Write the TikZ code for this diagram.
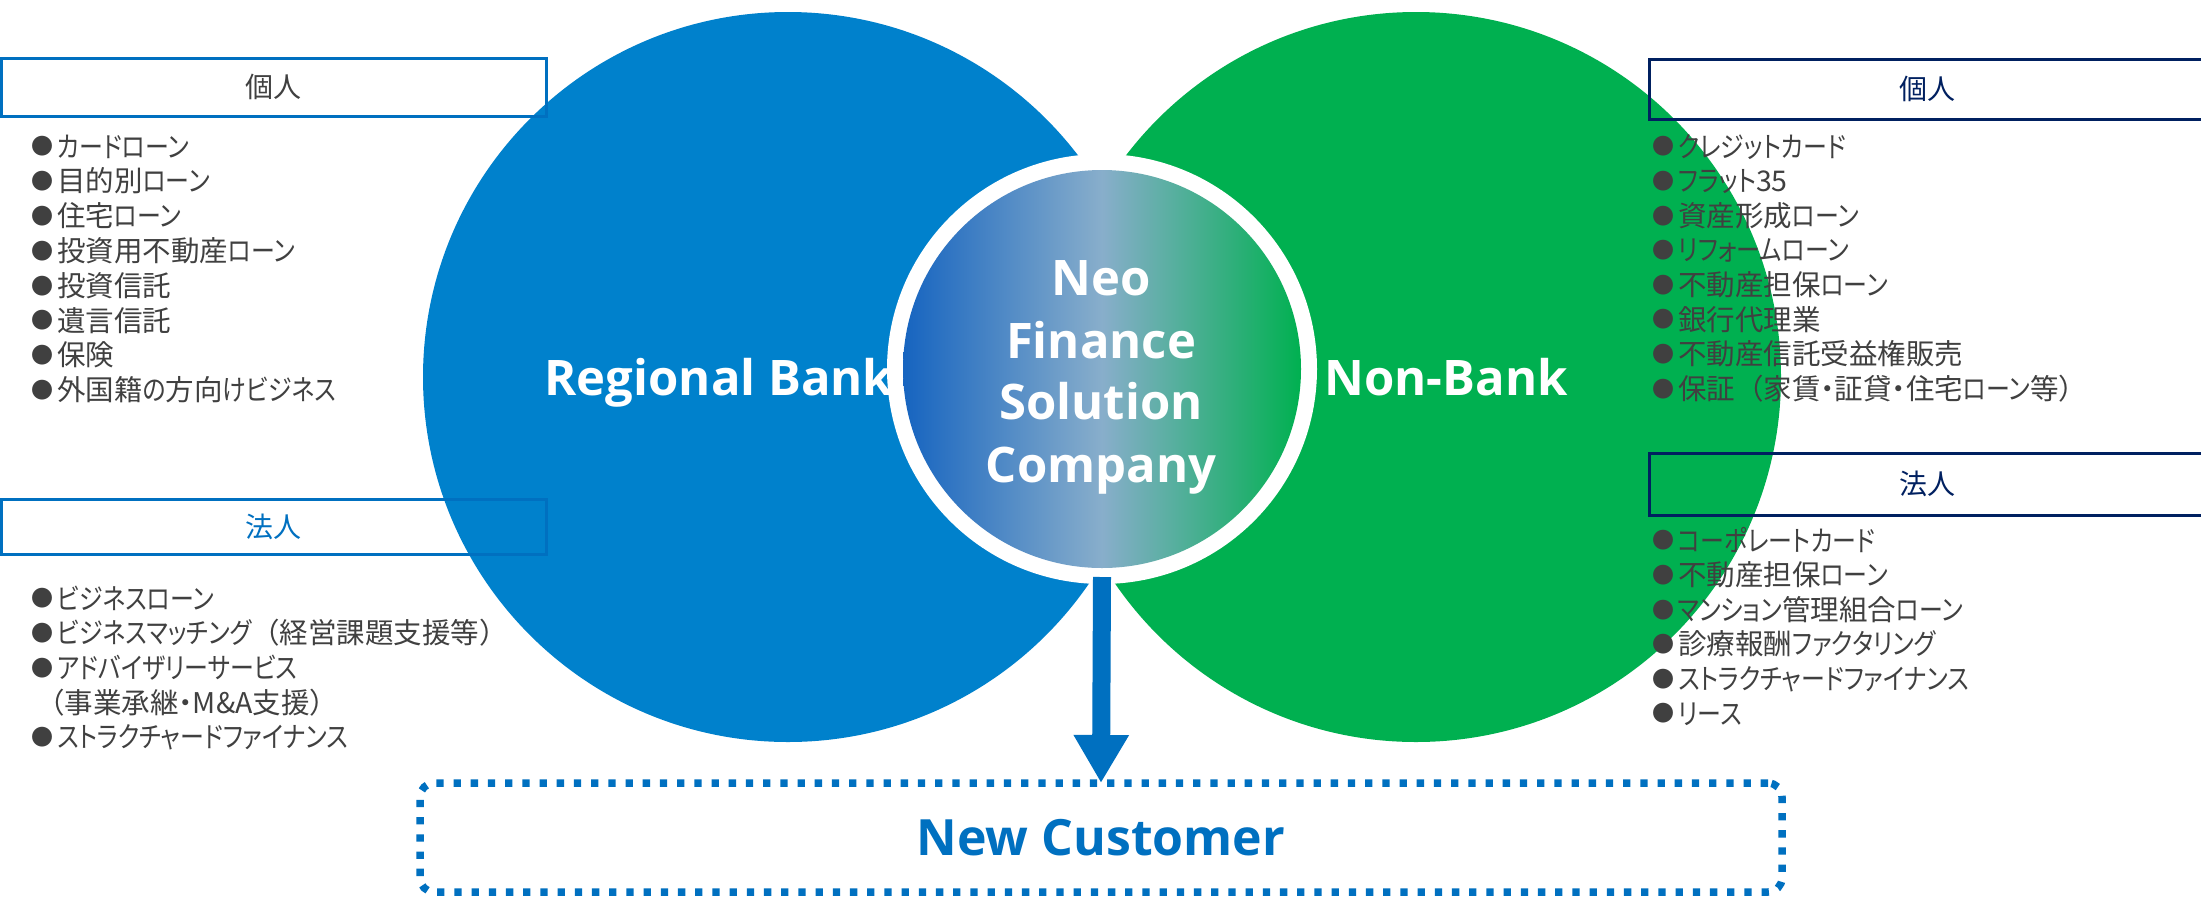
\documentclass[tikz,border=0pt]{standalone}
\usepackage{fontspec}
\newfontfamily\jp{Noto Sans CJK JP}[RawFeature=+palt]
\newfontfamily\jpf{Noto Sans CJK JP}
\newfontfamily\jk{Noto Sans CJK JP}[RawFeature=+palt, FakeStretch=0.84]
\newfontfamily\en{Open Sans}
\newcommand\kn[1]{{\jk #1}}
\newcommand\bul{{\jpf\fontsize{22}{22}\selectfont\raisebox{2.2pt}{●}}\kern4pt}
\usetikzlibrary{arrows.meta}
\definecolor{bankblue}{RGB}{0,129,204}
\definecolor{nbgreen}{RGB}{0,176,80}
\definecolor{boxblue}{RGB}{0,112,192}
\definecolor{navyc}{RGB}{0,32,96}
\definecolor{txtgray}{RGB}{64,64,64}
\definecolor{gradL}{RGB}{22,100,192}
\definecolor{gradM}{RGB}{136,174,203}
\definecolor{gradR}{RGB}{0,176,80}
\begin{document}
\begin{tikzpicture}[x=1pt,y=-1pt,
  item/.style={anchor=base west, inner sep=0pt, text=txtgray, font=\jp\fontsize{28.5}{33}\selectfont},
  hdrbox/.style={line width=3pt, inner sep=0pt, outer sep=0pt, font=\jpf\fontsize{28}{33}\selectfont},
  bigcirc/.style={circle, inner sep=0pt, outer sep=0pt, minimum size=730pt},
  lab/.style={anchor=base, inner sep=0pt, text=white, font=\en\bfseries\fontsize{49}{50}\selectfont},
]
\fill[white] (0,0) rectangle (2201,898);
\useasboundingbox (0,0) rectangle (2201,898);

% big circles
\node[bigcirc, fill=bankblue] (rb) at (788,377) {};
\node[bigcirc, fill=nbgreen] (nb) at (1416,377) {};
\node[lab] (rbl) at (719,395) {Regional Bank};
\node[lab] (nbl) at (1446,395) {Non-Bank};

% left headers
\node[hdrbox, draw=boxblue, text=txtgray, minimum width=544.5pt, minimum height=58pt] (lph) at (273.75,87) {個人};
\node[hdrbox, draw=boxblue, text=boxblue, minimum width=544.5pt, minimum height=55pt] (lch) at (273.75,526.5) {法人};
% right headers
\node[hdrbox, draw=navyc, text=navyc, minimum width=556pt, minimum height=60pt] (rph) at (1927,89) {個人};
\node[hdrbox, draw=navyc, text=navyc, minimum width=556pt, minimum height=62pt] (rch) at (1927,484) {法人};

% left personal list
\foreach \t [count=\i] in {\kn{カードローン},目的別\kn{ローン},住宅\kn{ローン},投資用不動産\kn{ローン},投資信託,遺言信託,保険,外国籍\kn{の}方向\kn{けビジネス}}
  \node[item] (lp\i) at (31,{157+(\i-1)*34.8}) {\bul\t};
% left corporate list
\node[item] (lc1) at (31,609) {\bul\kn{ビジネスローン}};
\node[item] (lc2) at (31,643.7) {\bul\kn{ビジネスマッチング}{\jpf（}経営課題支援等{\jpf）}};
\node[item] (lc3) at (31,678.4) {\bul\kn{アドバイザリーサービス}};
\node[item] (lc4) at (36,713.1) {{\jpf（}事業承継・M\&A支援{\jpf）}};
\node[item] (lc5) at (31,747.8) {\bul\kn{ストラクチャードファイナンス}};

% right personal list
\foreach \t [count=\i] in {\kn{クレジットカード},\kn{フラット}35,資産形成\kn{ローン},\kn{リフォームローン},不動産担保\kn{ローン},銀行代理業,不動産信託受益権販売,{保証{\jpf（}家賃・証貸・住宅\kn{ローン}等{\jpf）}}}
  \node[item] (rp\i) at (1652,{157+(\i-1)*34.6}) {\bul\t};
% right corporate list
\foreach \t [count=\i] in {\kn{コーポレートカード},不動産担保\kn{ローン},\kn{マンション}管理組合\kn{ローン},診療報酬\kn{ファクタリング},\kn{ストラクチャードファイナンス},\kn{リース}}
  \node[item] (rc\i) at (1652,{551+(\i-1)*34.6}) {\bul\t};

% centre circle
\node[circle, fill=white, inner sep=0pt, outer sep=0pt, minimum size=430pt] (ring) at (1102,369) {};
\node[circle, inner sep=0pt, outer sep=0pt, minimum size=398pt, left color=gradL, right color=gradR, middle color=gradM] (nfs) at (1102,369) {};
\node[lab] (n1) at (1101,295) {Neo};
\node[lab] (n2) at (1101,358) {Finance};
\node[lab] (n3) at (1101,419) {Solution};
\node[lab] (n4) at (1101,482) {Company};

% new customer box
\node[draw=boxblue, line width=7.5pt, dash pattern=on 7.3pt off 9.9pt, rounded corners=14pt,
      minimum width=1362pt, minimum height=109pt, inner sep=0pt, outer sep=0pt,
      text=boxblue, font=\en\bfseries\fontsize{50}{50}\selectfont] (nc) at (1101,837.5) {New Customer};

% arrow
\draw[boxblue, line width=18pt, -{Triangle[width=52pt,length=48pt]}] ([yshift=7pt]ring.south) -- (nc.north);
\end{tikzpicture}
\end{document}
